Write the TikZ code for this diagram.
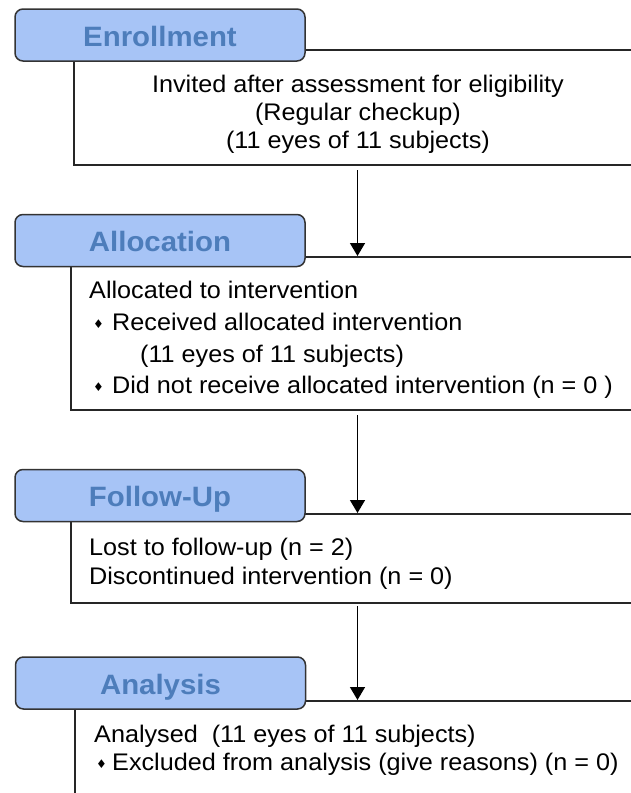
\documentclass[tikz,border=0pt]{standalone}
\usepackage{fontspec}
\setmainfont[FakeStretch=1.05]{Liberation Sans}
\newfontfamily\dv{DejaVu Sans}
\usetikzlibrary{arrows.meta}
\definecolor{hdrfill}{HTML}{A7C4F6}
\definecolor{hdrtext}{HTML}{4D7DBB}
\definecolor{hdrline}{HTML}{333333}
\definecolor{boxline}{HTML}{262626}
\newcommand{\dmd}[1]{\makebox[#1][l]{\raisebox{1.5pt}{\dv\fontsize{12}{12}\selectfont ♦}}}
\tikzset{
  bodybox/.style={draw=boxline, line width=1.6pt, fill=white, anchor=north west, inner sep=0pt},
  hdr/.style={draw=hdrline, line width=1.5pt, fill=hdrfill, rounded corners=8pt,
    minimum width=290pt, minimum height=52pt, inner sep=0pt, text height=22pt, text depth=0pt,
    text=hdrtext, font=\bfseries\fontsize{28}{28}\selectfont},
  txt/.style={inner sep=0pt, font=\fontsize{24}{28}\selectfont},
  arr/.style={line width=1.5pt, -{Triangle[width=15pt,length=13pt]}}
}
\begin{document}
\begin{tikzpicture}[x=1pt,y=-1pt]
\clip (0,0) rectangle (631,793);
\fill[white] (0,0) rectangle (631,793);
% Enrollment
\node[bodybox, minimum width=600pt, minimum height=115pt] (b1) at (73,49) {};
\node[hdr] (h1) at (160,35) {Enrollment};
\node[txt, align=center, anchor=base] (t1) at (358,148) {Invited after assessment for eligibility\\(Regular checkup)\\(11 eyes of 11 subjects)};
% Allocation
\node[bodybox, minimum width=600pt, minimum height=153pt] (b2) at (70,256) {};
\node[hdr] (h2) at (160,240.5) {Allocation};
\node[txt, anchor=base west] (t2a) at (89,298) {Allocated to intervention};
\node[txt, anchor=base west] (t2b) at (93,330) {\dmd{19pt}Received allocated intervention};
\node[txt, anchor=base west] (t2c) at (140,362) {(11 eyes of 11 subjects)};
\node[txt, anchor=base west] (t2d) at (93,393) {\dmd{19pt}Did not receive allocated intervention (n = 0 )};
% Follow-Up
\node[bodybox, minimum width=600pt, minimum height=89pt] (b3) at (70,513) {};
\node[hdr] (h3) at (160,495.5) {Follow-Up};
\node[txt, anchor=base west] (t3a) at (89,555) {Lost to follow-up (n = 2)};
\node[txt, anchor=base west] (t3b) at (89,584) {Discontinued intervention (n = 0)};
% Analysis
\node[bodybox, minimum width=600pt, minimum height=120pt] (b4) at (74,700) {};
\node[hdr] (h4) at (160.5,683) {Analysis};
\node[txt, anchor=base west] (t4a) at (94,742) {Analysed\ \ (11 eyes of 11 subjects)};
\node[txt, anchor=base west] (t4b) at (96,770) {\dmd{16pt}Excluded from analysis (give reasons) (n = 0)};
% arrows
\coordinate (s1) at (357.5,170);
\coordinate (s2) at (357.5,415);
\coordinate (s3) at (357.5,606);
\draw[arr] (s1) -- (s1 |- b2.north);
\draw[arr] (s2) -- (s2 |- b3.north);
\draw[arr] (s3) -- (s3 |- b4.north);
\end{tikzpicture}
\end{document}
